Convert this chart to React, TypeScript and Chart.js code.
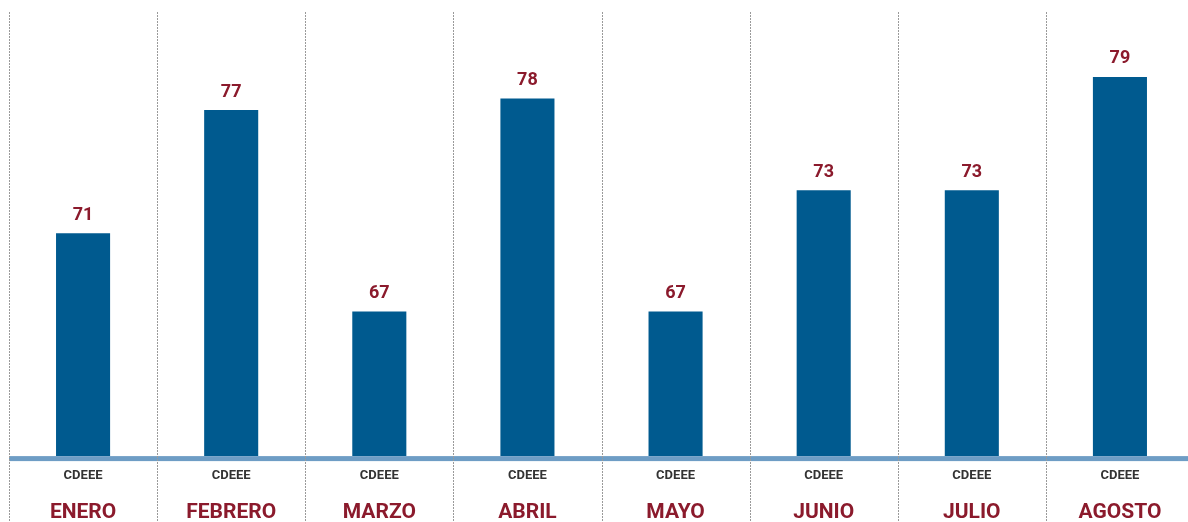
import React, { useEffect, useRef } from "react";
import { Chart, registerables } from "chart.js";

Chart.register(...registerables);

const months = ["ENERO", "FEBRERO", "MARZO", "ABRIL", "MAYO", "JUNIO", "JULIO", "AGOSTO"];
const sources = ["CDEEE", "CDEEE", "CDEEE", "CDEEE", "CDEEE", "CDEEE", "CDEEE", "CDEEE"];
const values = [71, 77.3, 67, 77.9, 67, 73.2, 73.2, 79];

const BAR_COLOR = "#005a8f";
const RED = "#8b1a2c";
const BASE_COLOR = "#6e9dc5";
const FONT = "Roboto";

const overlayPlugin = {
  id: "overlay",
  afterDatasetsDraw(chart: any) {
    const { ctx, chartArea } = chart;
    const xScale = chart.scales.x;
    // data labels
    const meta = chart.getDatasetMeta(0);
    ctx.save();
    ctx.font = `bold 18px ${FONT}`;
    ctx.fillStyle = RED;
    ctx.textAlign = "center";
    ctx.textBaseline = "middle";
    meta.data.forEach((bar: any, i: number) => {
      ctx.fillText(String(Math.round(values[i])), bar.x, bar.y - 18);
    });
    // baseline
    ctx.fillStyle = BASE_COLOR;
    ctx.fillRect(chartArea.left, chartArea.bottom, chart.width - chartArea.left, 5);
    // dotted separators
    ctx.strokeStyle = "#9a9a9a";
    ctx.lineWidth = 1;
    ctx.setLineDash([2, 1]);
    const n = months.length;
    const half = (xScale.getPixelForValue(1) - xScale.getPixelForValue(0)) / 2;
    for (let i = 0; i <= n; i++) {
      const px = Math.round(xScale.getPixelForValue(0) - half + i * 2 * half) + 0.5;
      ctx.beginPath();
      ctx.moveTo(px, chartArea.top);
      ctx.lineTo(px, chart.height);
      ctx.stroke();
    }
    ctx.restore();
  },
};

export default function App() {
  const ref = useRef<HTMLCanvasElement | null>(null);
  useEffect(() => {
    if (!ref.current) return;
    const chart = new Chart(ref.current, {
      type: "bar",
      data: {
        labels: sources,
        datasets: [
          {
            data: values,
            backgroundColor: BAR_COLOR,
            barPercentage: 0.365,
            categoryPercentage: 1,
            xAxisID: "x",
          },
        ],
      },
      options: {
        responsive: false,
        animation: false,
        layout: { padding: { left: 9, right: 6, top: 12, bottom: 0 } },
        plugins: { legend: { display: false }, tooltip: { enabled: false } },
        scales: {
          x: {
            type: "category",
            position: "bottom",
            offset: true,
            grid: { display: false, drawTicks: false },
            border: { display: false },
            ticks: {
              padding: 12.3,
              color: "#333333",
              font: { family: FONT, size: 13, weight: "bold", lineHeight: 1.2 },
              maxRotation: 0,
              autoSkip: false,
            },
          },
          x2: {
            type: "category",
            position: "bottom",
            labels: months,
            offset: true,
            grid: { display: false, drawTicks: false },
            border: { display: false },
            ticks: {
              padding: 5.3,
              color: RED,
              font: { family: FONT, size: 21, weight: "bold", lineHeight: 1.1 },
              maxRotation: 0,
              autoSkip: false,
            },
          },
          y: {
            display: false,
            min: 59.6,
            max: 82.32,
          },
        },
      },
      plugins: [overlayPlugin],
    });
    return () => chart.destroy();
  }, []);

  return (
    <div
      style={{
        position: "fixed",
        left: 0,
        top: 0,
        width: 1188,
        height: 522,
        overflow: "hidden",
        background: "#ffffff",
      }}
    >
      <canvas ref={ref} width={1200} height={530} style={{ display: "block", width: 1200, height: 530 }} />
    </div>
  );
}
